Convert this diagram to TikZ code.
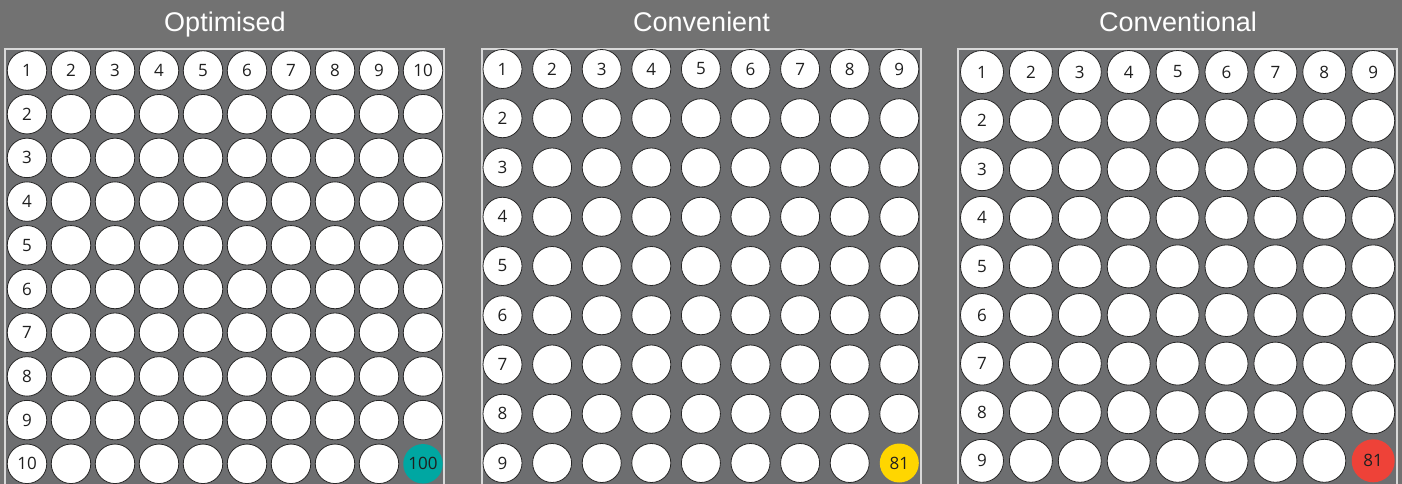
\documentclass[tikz,border=0pt]{standalone}
\usepackage{fontspec}
\setmainfont{Open Sans}
\newfontfamily\titlefont{Liberation Sans}
\definecolor{bgout}{HTML}{727272}
\definecolor{bgin}{HTML}{6D6E70}
\definecolor{framec}{HTML}{D9D9D9}
\definecolor{tealc}{HTML}{00A7A2}
\definecolor{yellowc}{HTML}{FFD600}
\definecolor{redc}{HTML}{EE4238}
\tikzset{
  well/.style={circle, draw=black!85, line width=0.8pt, fill=white, minimum size=#1,
    inner sep=0pt, text=black!88, font=\fontsize{17}{17}\selectfont},
  hit/.style={well=#1, draw=none},
  paneltitle/.style={anchor=base, text=white, font=\titlefont\fontsize{27}{27}\selectfont},
  frame/.style={draw=framec, line width=1.1pt, fill=bgin}
}
\newcommand\wellgrid[8]{%
  \foreach \r in {1,...,#2}{%
    \foreach \c in {1,...,#2}{%
      \pgfmathsetmacro\xx{#3+(\c-1)*#4}%
      \pgfmathsetmacro\yy{#5+(\r-1)*#6}%
      \def\lab{}%
      \ifnum\r=1 \edef\lab{\c}\fi
      \ifnum\c=1 \edef\lab{\r}\fi
      \ifnum\r=#2 \ifnum\c=#2 \pgfmathtruncatemacro\lab{#2*#2}\fi\fi
      \ifnum\r=#2 \ifnum\c=#2
        \node[hit=#7, fill=#8] (#1-\r-\c) at (\xx,\yy) {\lab};
      \else
        \node[well=#7] (#1-\r-\c) at (\xx,\yy) {\lab};
      \fi\else
        \node[well=#7] (#1-\r-\c) at (\xx,\yy) {\lab};
      \fi
    }%
  }%
}
\begin{document}
\begin{tikzpicture}[x=1pt,y=-1pt]
  \fill[bgout] (0,0) rectangle (1402,484);
  \useasboundingbox (0,0) rectangle (1402,484);
  \clip (0,0) rectangle (1402,484);
  % frames
  \path[frame] (5,500) -- (5,49) -- (444,49) -- (444,500);
  \path[frame] (482,500) -- (482,49) -- (921,49) -- (921,500);
  \path[frame] (958,500) -- (958,49) -- (1397,49) -- (1397,500);
  % titles
  \node[paneltitle] (t1) at (225,32) {Optimised};
  \node[paneltitle] (t2) at (701.5,32) {Convenient};
  \node[paneltitle] (t3) at (1178,32) {Conventional};
  % grids
  \wellgrid{a}{10}{27}{44}{70.5}{43.7}{39.5}{tealc}
  \wellgrid{b}{9}{502.5}{49.6}{69}{49.25}{39}{yellowc}
  \wellgrid{c}{9}{982}{48.9}{72}{48.6}{43}{redc}
\end{tikzpicture}
\end{document}
